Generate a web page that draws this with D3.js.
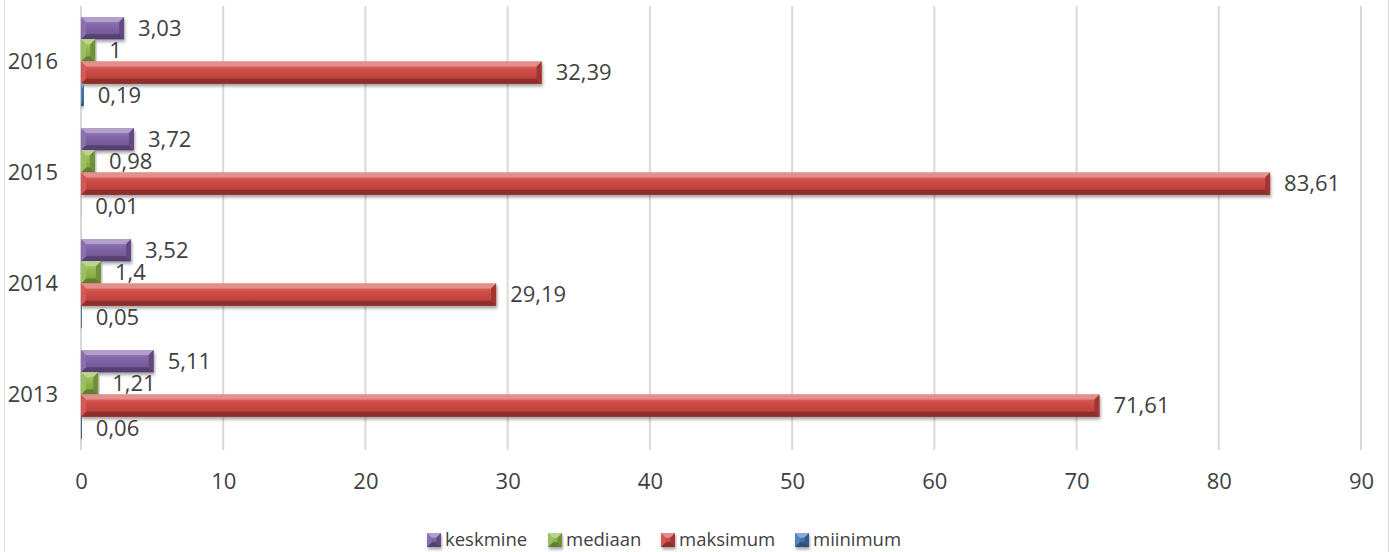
<!DOCTYPE html>
<html>
<head>
<meta charset="utf-8">
<script src="https://cdn.jsdelivr.net/npm/d3@7"></script>
<style>
  html, body { margin: 0; padding: 0; background: #ffffff; }
  svg { display: block; }
  text { font-family: "Open Sans", sans-serif; fill: #404040; }
</style>
</head>
<body>
<svg id="chart" width="1389" height="552"></svg>
<script>
const categories = ["2013", "2014", "2015", "2016"];
const seriesNames = ["keskmine", "mediaan", "maksimum", "miinimum"];
const keskmine = [5.11, 3.52, 3.72, 3.03];
const mediaan = [1.21, 1.4, 0.98, 1];
const maksimum = [71.61, 29.19, 83.61, 32.39];
const miinimum = [0.06, 0.05, 0.01, 0.19];
const xTicks = [0, 10, 20, 30, 40, 50, 60, 70, 80, 90];

const seriesValues = { keskmine, mediaan, maksimum, miinimum };
const colors = { keskmine: "#7e5fa6", mediaan: "#8fb84a", maksimum: "#d0453f", miinimum: "#3f74b5" };

const W = 1389, H = 552;
const margin = { left: 81, right: 28, top: 6, bottom: 102 };
const svg = d3.select("#chart");

const defs = svg.append("defs");
const f = defs.append("filter").attr("id", "shadow").attr("x", "-10%").attr("y", "-30%").attr("width", "120%").attr("height", "170%");
f.append("feDropShadow").attr("dx", 1).attr("dy", 2.5).attr("stdDeviation", 1.6).attr("flood-color", "#000").attr("flood-opacity", 0.35);

function shade(c, k) {
  const col = d3.color(c);
  return k >= 0 ? d3.interpolateRgb(col, "#ffffff")(k) : d3.interpolateRgb(col, "#000000")(-k);
}
seriesNames.forEach(s => {
  const g = defs.append("linearGradient").attr("id", "grad-" + s).attr("x1", 0).attr("y1", 0).attr("x2", 0).attr("y2", 1);
  g.append("stop").attr("offset", "0%").attr("stop-color", shade(colors[s], 0.3));
  g.append("stop").attr("offset", "35%").attr("stop-color", shade(colors[s], 0.05));
  g.append("stop").attr("offset", "100%").attr("stop-color", shade(colors[s], -0.15));
});

const x = d3.scaleLinear().domain([0, 90]).range([margin.left, W - margin.right]);
const y = d3.scaleBand().domain(categories.slice().reverse()).range([margin.top, H - margin.bottom]).paddingInner(0).paddingOuter(0);
const inner = d3.scaleBand().domain(seriesNames).range([0, y.bandwidth()]).paddingInner(0).paddingOuter(0.5);

// chart border
svg.append("line").attr("x1", 4.5).attr("x2", 4.5).attr("y1", 0).attr("y2", H).attr("stroke", "#d9d9d9").attr("stroke-width", 1);
svg.append("line").attr("x1", W - 0.5).attr("x2", W - 0.5).attr("y1", 0).attr("y2", H).attr("stroke", "#d9d9d9").attr("stroke-width", 1);

// gridlines
svg.append("g").selectAll("line").data(xTicks).join("line")
  .attr("x1", d => x(d)).attr("x2", d => x(d))
  .attr("y1", margin.top).attr("y2", H - margin.bottom)
  .attr("stroke", "#d9d9d9").attr("stroke-width", 2);

// x axis labels
const xAxis = d3.axisBottom(x).tickValues(xTicks).tickSize(0).tickPadding(0).tickFormat(d => d);
const xg = svg.append("g").attr("transform", `translate(0,${H - margin.bottom})`).call(xAxis);
xg.select(".domain").remove();
xg.selectAll("text").attr("y", 31).attr("dy", "0.35em").style("font-size", "22px").attr("fill", "#404040").style("font-family", "Open Sans");

// y axis labels
const yAxis = d3.axisLeft(y).tickSize(0).tickPadding(0);
const yg = svg.append("g").attr("transform", `translate(${margin.left},0)`).call(yAxis);
yg.select(".domain").remove();
yg.selectAll("text").attr("x", -23).attr("dy", "0.35em").style("font-size", "22px").attr("fill", "#404040").style("font-family", "Open Sans");

function bevelBar(g, bx, by, bw, bh, s) {
  const c = colors[s];
  const b = Math.min(5, bh / 3);
  const ex = Math.min(b, bw / 2);
  const grp = g.append("g").attr("filter", "url(#shadow)");
  grp.append("rect").attr("x", bx).attr("y", by).attr("width", bw).attr("height", bh).attr("fill", `url(#grad-${s})`);
  if (bw < 2) {
    grp.select("rect").attr("fill", shade(c, -0.3));
    return;
  }
  grp.append("polygon").attr("points", [[bx, by], [bx + bw, by], [bx + bw - ex, by + b], [bx + ex, by + b]].join(" ")).attr("fill", shade(c, 0.4));
  grp.append("polygon").attr("points", [[bx, by + bh], [bx + bw, by + bh], [bx + bw - ex, by + bh - b], [bx + ex, by + bh - b]].join(" ")).attr("fill", shade(c, -0.32));
  grp.append("polygon").attr("points", [[bx + bw, by], [bx + bw - ex, by + b], [bx + bw - ex, by + bh - b], [bx + bw, by + bh]].join(" ")).attr("fill", shade(c, -0.22));
  grp.append("polygon").attr("points", [[bx, by], [bx + ex, by + b], [bx + ex, by + bh - b], [bx, by + bh]].join(" ")).attr("fill", shade(c, 0.1));
}

const barsG = svg.append("g");
const labelsG = svg.append("g");
const fmt = v => String(v).replace(".", ",");

seriesNames.forEach(s => {
  categories.forEach((cat, i) => {
    const v = seriesValues[s][i];
    const by = y(cat) + inner(s);
    const bh = inner.bandwidth();
    const bw = x(v) - x(0);
    bevelBar(barsG, x(0), by, bw, bh, s);
    labelsG.append("text")
      .attr("x", x(v) + 14)
      .attr("y", by + bh / 2)
      .attr("dy", "0.35em")
      .style("font-size", "22px")
      .text(fmt(v));
  });
});

// legend
const legendX = [427, 548, 661, 795];
const legend = svg.append("g");
seriesNames.forEach((s, i) => {
  const lg = legend.append("g").attr("transform", `translate(${legendX[i]},533)`);
  bevelBar(lg, 0, 0, 14, 14, s);
  lg.append("text").attr("x", 18).attr("y", 7).attr("dy", "0.35em").style("font-size", "18.5px").text(s);
});
</script>
</body>
</html>
